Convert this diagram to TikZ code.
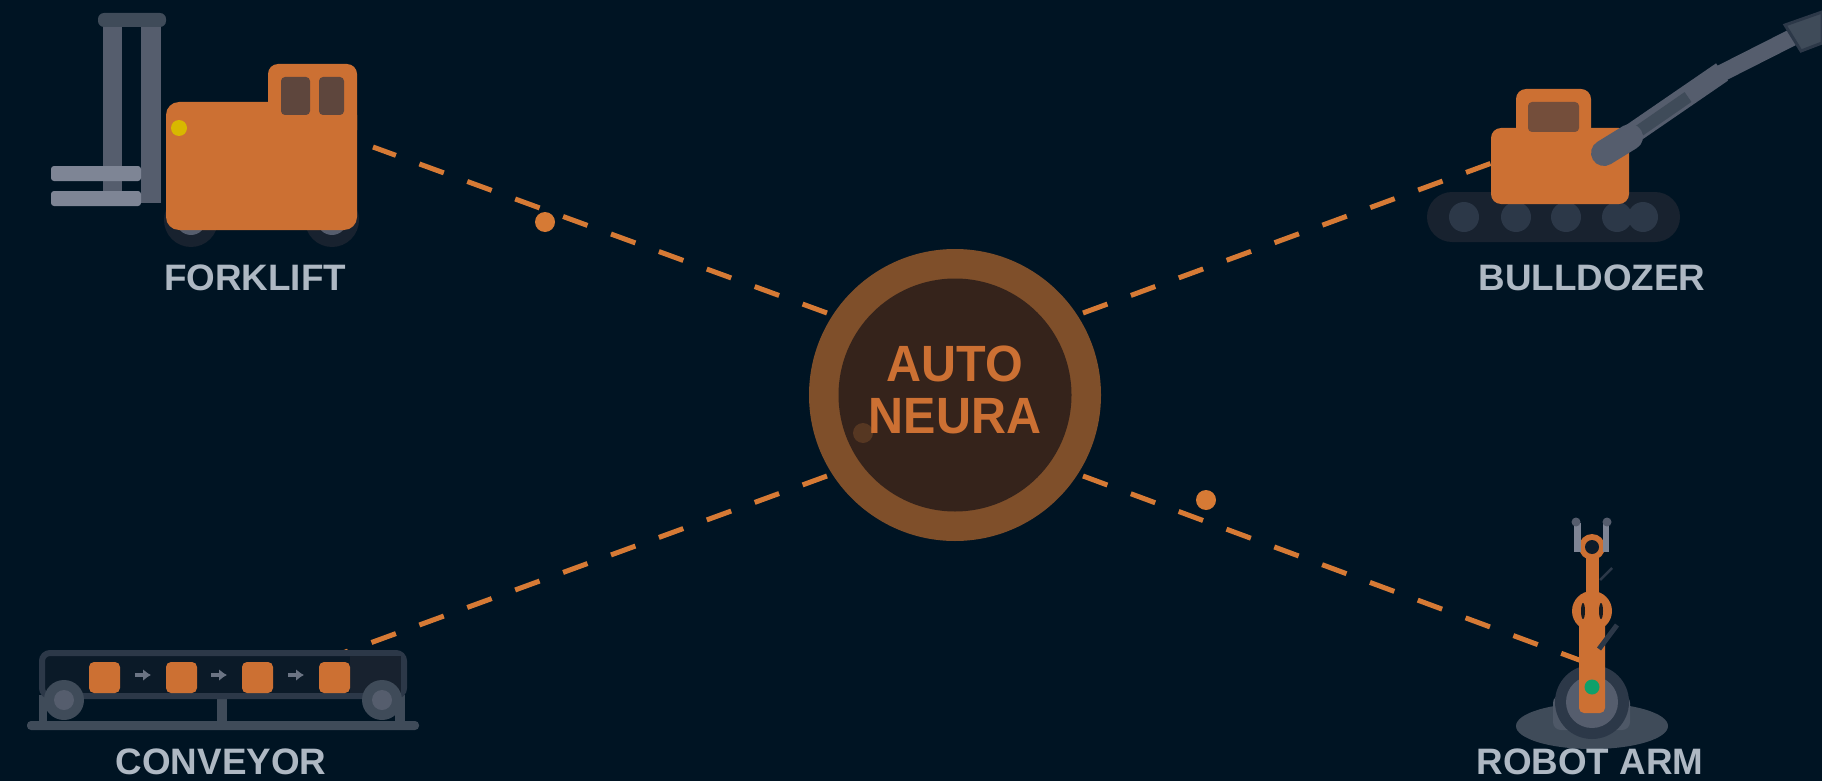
\documentclass[tikz,border=0pt]{standalone}
\usepackage{fontspec}
\setmainfont{Liberation Sans}
\newfontfamily\hubfont[FakeStretch=0.95]{Liberation Sans}
\usetikzlibrary{positioning, arrows.meta}
\definecolor{night}{HTML}{001423}
\definecolor{rust}{HTML}{CC7033}
\definecolor{wire}{HTML}{D67A35}
\definecolor{ringc}{HTML}{7F4F2A}
\definecolor{corec}{HTML}{35231B}
\definecolor{steel}{HTML}{555D6D}
\definecolor{slate}{HTML}{3F4B59}
\definecolor{pale}{HTML}{7E8595}
\definecolor{coal}{HTML}{18222F}
\definecolor{ash}{HTML}{2C3848}
\definecolor{pane}{HTML}{5E463D}
\definecolor{tag}{HTML}{AEB8C3}
\definecolor{lampy}{HTML}{D8B800}
\definecolor{lampg}{HTML}{10A06A}

\begin{document}
\begin{tikzpicture}[x=1pt, y=-1pt,
  lbl/.style={font=\bfseries\fontsize{36.8}{37}\selectfont, text=tag, inner sep=0pt},
  hubtxt/.style={font=\hubfont\bfseries\fontsize{51}{52}\selectfont, text=rust, align=center, inner sep=0pt},
  wirel/.style={draw=wire, line width=5pt, dash pattern=on 26pt off 25pt},
  pulse/.style={circle, fill=wire, minimum size=20pt, inner sep=0pt},
  rc/.style={rounded corners=#1pt}
]
  \useasboundingbox (0,0) rectangle (1822,781);
  \fill[night] (0,0) rectangle (1822,781);

  % hub and connector ends
  \node[circle, fill=ringc, minimum size=292pt, inner sep=0pt] (hub) at (955,395) {};
  \node[circle, fill=corec, minimum size=233pt, inner sep=0pt] (core) at (hub) {};
  \coordinate (hubfl) at (827,313);
  \coordinate (hubbd) at (1083,313);
  \coordinate (hubcv) at (827,476);
  \coordinate (hubra) at (1083,476);
  \coordinate (endfl) at (373,147);
  \coordinate (endbd) at (1500,160);
  \coordinate (endcv) at (340,654);
  \coordinate (endra) at (1590,664);
  \draw[wirel] (hubfl) -- (endfl);
  \draw[wirel] (hubbd) -- (endbd);
  \draw[wirel] (hubcv) -- (endcv);
  \draw[wirel] (hubra) -- (endra);
  \node[pulse] (pulsefl) at (545,222) {};
  \node[pulse] (pulsera) at (1206,500) {};
  \node[circle, fill=ringc!45!corec, minimum size=20pt, inner sep=0pt] (pulsehub) at (863,433) {};
  \node[hubtxt] (hubname) at (955,390) {AUTO\\NEURA};

  % forklift
  \fill[steel] (103,27) rectangle (122,192);
  \fill[steel] (141,27) rectangle (161,203);
  \fill[slate, rc=6] (98,13) rectangle (166,27);
  \fill[pale, rc=3] (51,166) rectangle (141,181);
  \fill[pale, rc=3] (51,191) rectangle (141,206);
  \fill[coal] (191,220) circle (27);
  \fill[coal] (332,220) circle (27);
  \fill[steel] (191,220) circle (15);
  \fill[steel] (332,220) circle (15);
  \fill[rust, rc=10] (268,64) rectangle (357,140);
  \fill[rust, rc=13] (166,102) rectangle (357,230);
  \fill[pane, rc=4] (281,77) rectangle (310,115);
  \fill[pane, rc=4] (319,77) rectangle (344,115);
  \fill[lampy] (179,128) circle (8);
  \node[lbl] (lblfl) at (255,278) {FORKLIFT};

  % bulldozer
  \fill[coal, rc=25] (1427,192) rectangle (1680,242);
  \foreach \wx in {1464,1516,1566,1617,1643}
    \fill[ash] (\wx,217) circle (15);
  \fill[rust, rc=10] (1516,89) rectangle (1591,150);
  \fill[rust, rc=10] (1491,128) rectangle (1629,204);
  \fill[pane!80!rust, rc=4] (1528,102) rectangle (1579,132);
  \draw[steel, line width=21pt] (1604,153) -- (1722,72);
  \draw[steel, line width=17pt] (1712,78) -- (1795,36);
  \draw[slate, line width=12pt] (1636,133) -- (1688,97);
  \draw[steel, line width=26pt, line cap=round] (1604,153) -- (1630,137);
  \draw[slate, draw=ash, line width=3pt, fill=slate] (1785,25) -- (1822,12) -- (1822,43) -- (1801,51) -- cycle;
  \node[lbl] (lblbd) at (1592,278) {BULLDOZER};

  % conveyor
  \fill[slate] (39,695) rectangle (47,721);
  \fill[slate] (395,695) rectangle (405,721);
  \fill[slate] (217,699) rectangle (227,721);
  \fill[slate, rc=4] (27,721) rectangle (419,730);
  \draw[ash, fill=coal!45!night, line width=6pt, rc=8] (42,653) rectangle (404,696);
  \fill[coal] (350,656) rectangle (401,693);
  \foreach \bx in {89,166,242,319}
    \fill[rust, rc=5] (\bx,662) rectangle +(31,31);
  \foreach \ax in {143,219,296}
    \draw[pale!85!night, line width=4pt, -{Latex[length=8pt, width=12pt]}] (\ax-8,675) -- (\ax+8,675);
  \foreach \rx in {64,382} {
    \fill[slate] (\rx,700) circle (20);
    \fill[steel] (\rx,700) circle (10);
  }
  \node[lbl] (lblcv) at (221,762) {CONVEYOR};

  % robot arm
  \fill[slate] (1592,726) ellipse (76 and 23);
  \fill[steel!70!slate, rc=8] (1553,695) rectangle (1630,730);
  \fill[ash] (1592,702) circle (37);
  \fill[steel] (1592,702) circle (26);
  \fill[rust, rc=5] (1579,620) rectangle (1605,713);
  \fill[rust] (1592,611) circle (20);
  \fill[rust] (1585.5,550) rectangle (1598.5,620);
  \fill[corec!40!night] (1583,611) ellipse (2 and 8);
  \fill[corec!40!night] (1601,611) ellipse (2 and 8);
  \draw[ash, line width=2.5pt] (1600,580) -- (1612,568);
  \draw[ash, line width=5pt] (1599,649) -- (1617,625);
  \fill[rust] (1592,547) circle (13);
  \fill[coal!60!night] (1592,547) circle (7);
  \fill[pale] (1574,523) rectangle (1581,552);
  \fill[pale] (1603,523) rectangle (1609,552);
  \fill[steel] (1576,522) circle (4.5);
  \fill[steel] (1607,522) circle (4.5);
  \fill[lampg] (1592,687) circle (7.5);
  \node[lbl] (lblra) at (1590,762) {ROBOT ARM};
\end{tikzpicture}
\end{document}
